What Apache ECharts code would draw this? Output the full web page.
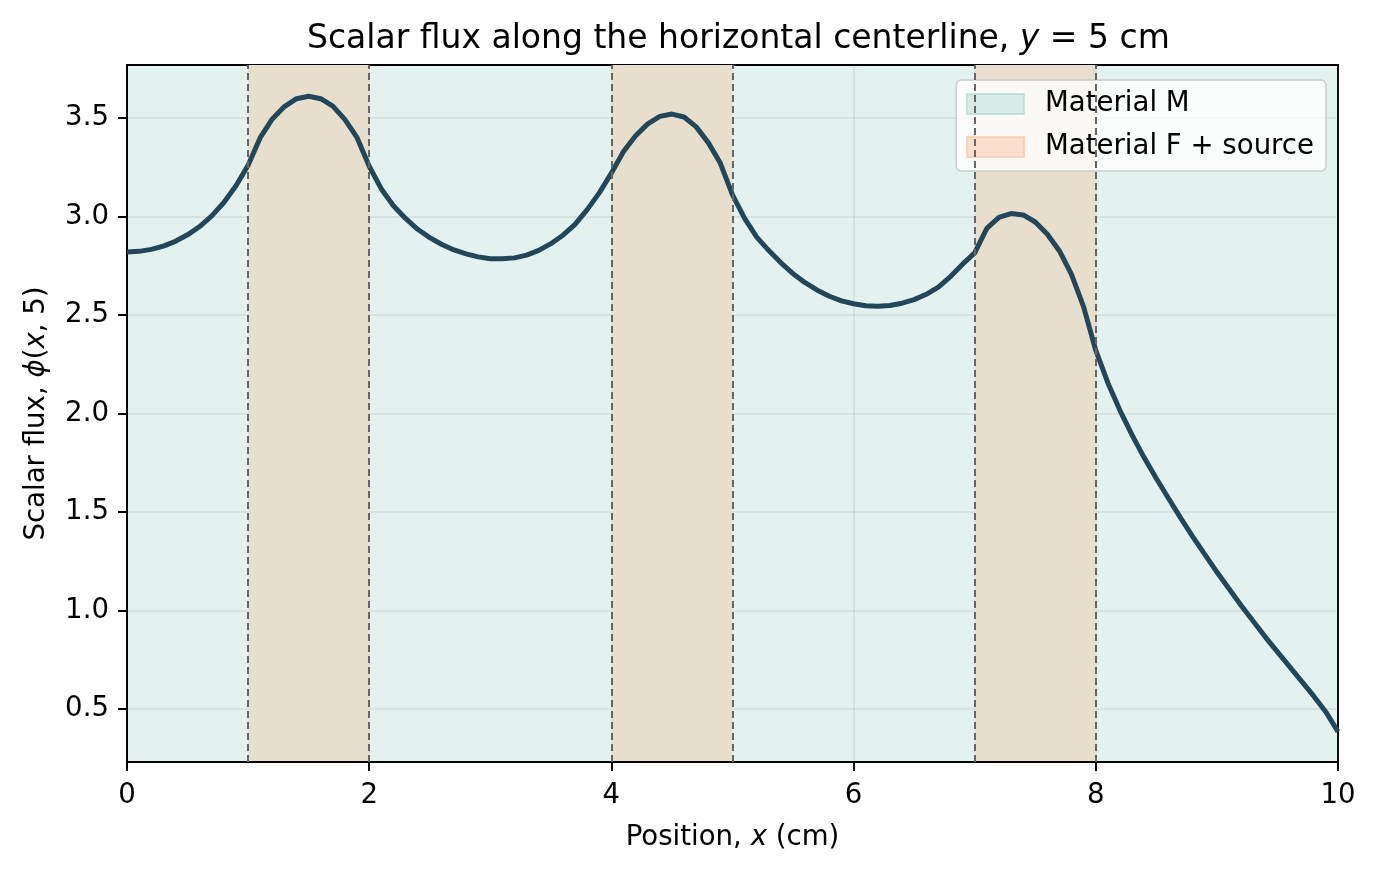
<!DOCTYPE html>
<html>
<head>
<meta charset="utf-8">
<title>Scalar flux centerline</title>
<script src="https://cdn.jsdelivr.net/npm/echarts@6/dist/echarts.min.js"></script>
<style>
  html, body { margin: 0; padding: 0; background: #fff; }
  #chart { width: 1376px; height: 871px; }
</style>
</head>
<body>
<div id="chart"></div>
<script>
// positions along the centerline (cm)
var positions = [
  0.0, 0.1, 0.2, 0.3, 0.4, 0.5, 0.6, 0.7, 0.8, 0.9,
  1.0, 1.1, 1.2, 1.3, 1.4, 1.5, 1.6, 1.7, 1.8, 1.9,
  2.0, 2.1, 2.2, 2.3, 2.4, 2.5, 2.6, 2.7, 2.8, 2.9,
  3.0, 3.1, 3.2, 3.3, 3.4, 3.5, 3.6, 3.7, 3.8, 3.9,
  4.0, 4.1, 4.2, 4.3, 4.4, 4.5, 4.6, 4.7, 4.8, 4.9,
  5.0, 5.1, 5.2, 5.3, 5.4, 5.5, 5.6, 5.7, 5.8, 5.9,
  6.0, 6.1, 6.2, 6.3, 6.4, 6.5, 6.6, 6.7, 6.8, 6.9,
  7.0, 7.1, 7.2, 7.3, 7.4, 7.5, 7.6, 7.7, 7.8, 7.9,
  8.0, 8.1, 8.2, 8.3, 8.4, 8.5, 8.6, 8.7, 8.8, 8.9,
  9.0, 9.1, 9.2, 9.3, 9.4, 9.5, 9.6, 9.7, 9.8, 9.9,
  10.0
];
// scalar flux phi(x, 5)
var flux = [
  2.820, 2.823, 2.833, 2.850, 2.874, 2.907, 2.949, 3.003, 3.071, 3.156,
  3.260, 3.400, 3.495, 3.558, 3.598, 3.610, 3.598, 3.560, 3.492, 3.400,
  3.255, 3.140, 3.055, 2.990, 2.935, 2.893, 2.858, 2.830, 2.810, 2.795,
  2.786, 2.785, 2.790, 2.804, 2.828, 2.862, 2.905, 2.960, 3.035, 3.120,
  3.220, 3.330, 3.410, 3.470, 3.508, 3.520, 3.505, 3.455, 3.375, 3.270,
  3.110, 2.990, 2.895, 2.827, 2.765, 2.710, 2.664, 2.626, 2.595, 2.572,
  2.557, 2.547, 2.544, 2.548, 2.560, 2.578, 2.605, 2.642, 2.695, 2.758,
  2.815, 2.940, 2.995, 3.015, 3.008, 2.972, 2.910, 2.825, 2.705, 2.540,
  2.320, 2.155, 2.015, 1.890, 1.775, 1.670, 1.570, 1.470, 1.375, 1.285,
  1.195, 1.110, 1.025, 0.945, 0.865, 0.790, 0.715, 0.640, 0.565, 0.485,
  0.385
];
// fuel + source slabs (cm)
var sourceSlabs = [[1, 2], [4, 5], [7, 8]];
var xTicks = [0, 2, 4, 6, 8, 10];
var yTicks = [0.5, 1.0, 1.5, 2.0, 2.5, 3.0, 3.5];

var myChart = echarts.init(document.getElementById('chart'));

var lineData = positions.map(function (x, i) { return [x, flux[i]]; });
var bandAreas = sourceSlabs.map(function (s) { return [{ xAxis: s[0] }, { xAxis: s[1] }]; });
var edgeLines = [];
sourceSlabs.forEach(function (s) { edgeLines.push({ xAxis: s[0] }, { xAxis: s[1] }); });

var font = 'DejaVu Sans';
var gridColor = 'rgba(110,120,120,0.16)';

option = {
  animation: false,
  title: {
    text: '{n|Scalar flux along the horizontal centerline, }{i|y}{n| = 5 cm}',
    left: 302,
    top: 18,
    textStyle: {
      fontWeight: 'normal',
      rich: {
        n: { fontFamily: font, fontSize: 33, fontWeight: 'normal', color: '#000' },
        i: { fontFamily: font, fontSize: 33, fontWeight: 'normal', fontStyle: 'italic', color: '#000' }
      }
    }
  },
  legend: {
    orient: 'vertical',
    right: 50,
    top: 80,
    padding: [10, 12, 10, 10],
    itemWidth: 57,
    itemHeight: 20,
    itemGap: 15,
    backgroundColor: 'rgba(255,255,255,0.8)',
    borderColor: '#cccccc',
    borderWidth: 1.5,
    borderRadius: 5,
    selectedMode: false,
    textStyle: { fontFamily: font, fontSize: 27.6, color: '#000', lineHeight: 28, padding: [0, 0, 0, 16] },
    data: [
      { name: 'Material M', icon: 'rect',
        itemStyle: { color: '#d7ebe7', borderColor: '#bcdcd6', borderWidth: 1.5 } },
      { name: 'Material F + source', icon: 'rect',
        itemStyle: { color: '#fadfcc', borderColor: '#f6cdb0', borderWidth: 1.5 } }
    ]
  },
  grid: {
    left: 127, right: 38, top: 65, bottom: 109,
    show: true,
    backgroundColor: '#e4f2ef',
    borderColor: '#000',
    borderWidth: 2
  },
  xAxis: {
    type: 'value',
    min: 0, max: 10, interval: 2,
    z: 1,
    name: '{n|Position, }{i|x}{n| (cm)}',
    nameLocation: 'middle',
    nameGap: 62,
    nameTextStyle: {
      rich: {
        n: { fontFamily: font, fontSize: 27.6, color: '#000' },
        i: { fontFamily: font, fontSize: 27.6, fontStyle: 'italic', color: '#000' }
      }
    },
    axisLine: { show: true, onZero: false, lineStyle: { color: '#000', width: 2 } },
    axisTick: { show: true, inside: false, length: 9, lineStyle: { color: '#000', width: 2 } },
    axisLabel: {
      margin: 20,
      fontFamily: font, fontSize: 27.6, color: '#000',
      formatter: function (v) { return xTicks.indexOf(v) >= 0 ? String(v) : ''; }
    },
    splitLine: { show: true, lineStyle: { color: gridColor, width: 1.5 } }
  },
  yAxis: {
    type: 'value',
    min: 0.231, max: 3.769, splitNumber: 7,
    z: 1,
    name: '{n|Scalar flux, }{i|ϕ}{n|(}{i|x}{n|, 5)}',
    nameLocation: 'middle',
    nameGap: 76,
    nameTextStyle: {
      rich: {
        n: { fontFamily: font, fontSize: 27.6, color: '#000' },
        i: { fontFamily: font, fontSize: 27.6, fontStyle: 'italic', color: '#000' }
      }
    },
    axisLine: { show: true, onZero: false, lineStyle: { color: '#000', width: 2 } },
    axisTick: { show: true, inside: false, length: 9, customValues: yTicks,
      lineStyle: { color: '#000', width: 2 } },
    axisLabel: {
      margin: 18,
      customValues: yTicks,
      fontFamily: font, fontSize: 27.6, color: '#000',
      formatter: function (v) {
        return Math.abs(v * 2 - Math.round(v * 2)) < 1e-6 ? v.toFixed(1) : '';
      }
    },
    splitLine: { show: true, lineStyle: { color: gridColor, width: 1.5 } }
  },
  series: [
    {
      // dummy so the legend gets its "Material M" entry
      name: 'Material M',
      type: 'line',
      data: [],
      silent: true
    },
    {
      name: 'Material F + source',
      type: 'line',
      z: 0.5,
      silent: true,
      data: lineData,
      showSymbol: false,
      lineStyle: { opacity: 0 },
      markArea: {
        silent: true,
        itemStyle: { color: '#e7dfcc' },
        data: bandAreas
      }
    },
    {
      name: 'flux',
      type: 'line',
      z: 2,
      data: lineData,
      showSymbol: false,
      smooth: false,
      lineStyle: { color: '#23475a', width: 5 },
      markLine: {
        silent: true,
        symbol: 'none',
        label: { show: false },
        lineStyle: { color: '#666', width: 2, type: [7, 4] },
        data: edgeLines
      }
    }
  ]
};
myChart.setOption(option);
</script>
</body>
</html>
